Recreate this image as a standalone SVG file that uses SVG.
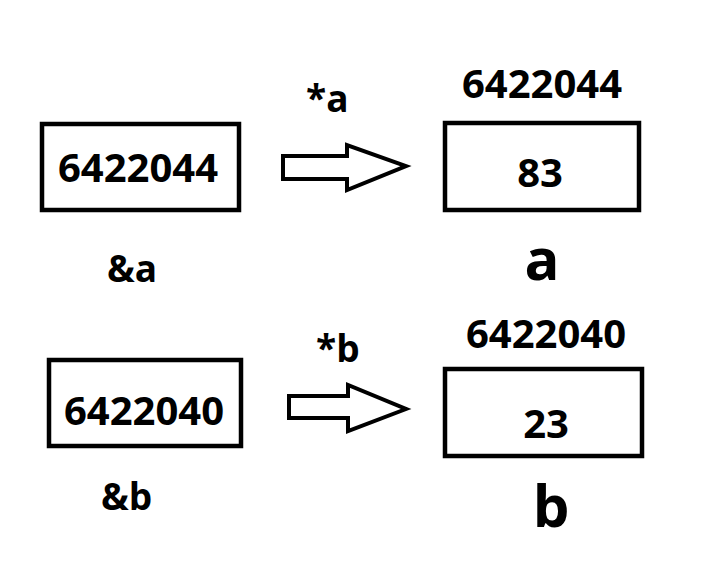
<svg xmlns="http://www.w3.org/2000/svg" width="709" height="563" viewBox="0 0 709 563">
<style>
.box{fill:#fff;stroke:#000;stroke-width:4.5}
.arr{fill:#fff;stroke:#000;stroke-width:4;stroke-linejoin:miter}
text{font-family:"Open Sans","Noto Sans","Liberation Sans",sans-serif;font-weight:bold;fill:#000}
.num{font-size:40px;text-anchor:middle}
.lbl{font-size:37px}
.big{font-size:58px;text-anchor:middle}
</style>
<rect width="709" height="563" fill="#fff"/>
<g id="ptr-a">
<rect class="box" x="42" y="124" width="197" height="86"/>
<text class="num" x="138" y="182">6422044</text>
<text class="lbl" x="107" y="282">&amp;a</text>
</g>
<g id="var-a">
<text class="num" x="542" y="98">6422044</text>
<rect class="box" x="445" y="123" width="194" height="87"/>
<text class="num" x="540" y="187">83</text>
<text class="big" x="542" y="280">a</text>
</g>
<g id="ptr-b">
<rect class="box" x="49" y="360" width="192" height="86"/>
<text class="num" x="144" y="425">6422040</text>
<text class="lbl" x="101" y="510">&amp;b</text>
</g>
<g id="var-b">
<text class="num" x="546" y="348">6422040</text>
<rect class="box" x="445" y="369" width="197" height="87"/>
<text class="num" x="546" y="438">23</text>
<text class="big" x="551" y="527">b</text>
</g>
<g id="connectors">
<polygon class="arr" points="283,156 347,156 347,145 406,166 347,190 347,179 283,179"/>
<text class="lbl" x="306" y="112" font-size="36">*a</text>
<polygon class="arr" points="289,396 348,396 348,385 406,409 348,431 348,418 289,418"/>
<text class="lbl" x="316" y="362" font-size="36">*b</text>
</g>
</svg>
